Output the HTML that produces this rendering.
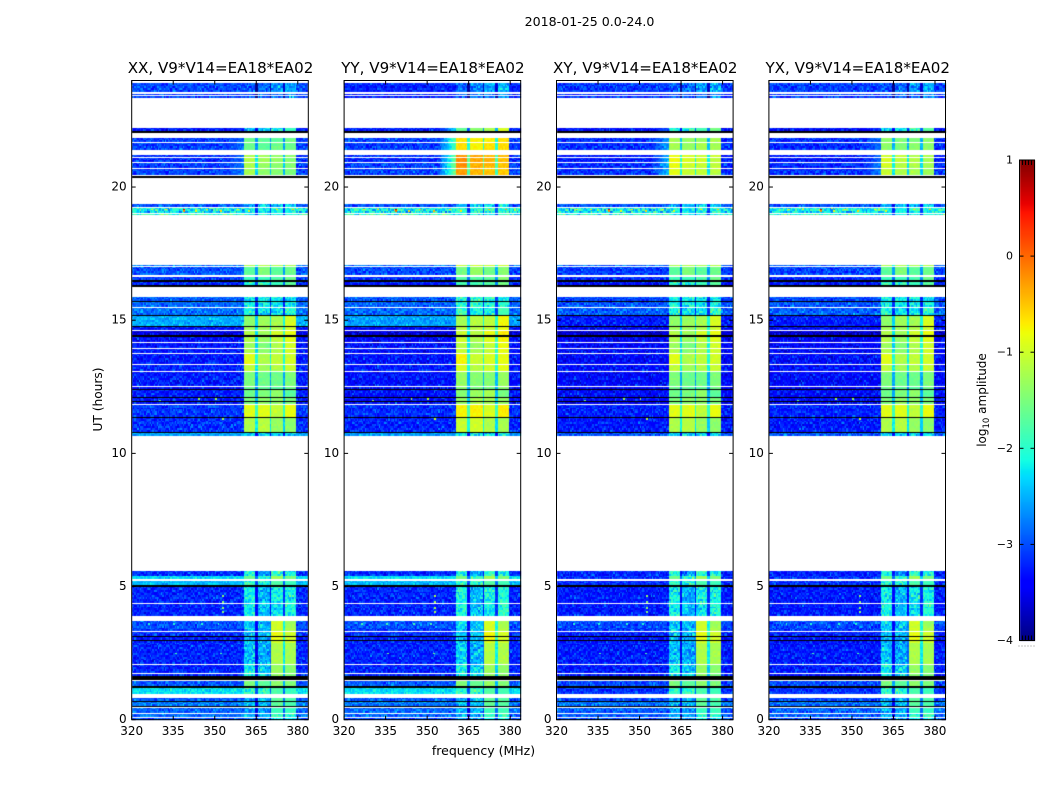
<!DOCTYPE html>
<html>
<head>
<meta charset="utf-8">
<title>2018-01-25 0.0-24.0</title>
<style>
html,body{margin:0;padding:0;background:#fff;}
#figure{position:relative;width:1050px;height:800px;overflow:hidden;background:#fff;}
#heat,#cbar{position:absolute;left:0;top:0;}
#overlay{position:absolute;left:0;top:0;}
text{font-family:"DejaVu Sans","Liberation Sans",sans-serif;fill:#000;}
</style>
</head>
<body>
<div id="figure">
<canvas id="heat" width="1050" height="800"></canvas>
<canvas id="cbar" width="1050" height="800"></canvas>
<svg id="overlay" width="1050" height="800"></svg>
</div>
<script>
// Panels and axis labels
var panelTitles = ["XX, V9*V14=EA18*EA02", "YY, V9*V14=EA18*EA02", "XY, V9*V14=EA18*EA02", "YX, V9*V14=EA18*EA02"];
var freqTicks = [320, 335, 350, 365, 380];
var hourTicks = [0, 5, 10, 15, 20];
var colorbarTicks = [1, 0, -1, -2, -3, -4];

// Observing rows: time range (hours) and log10 amplitude for the low band and four high sub-bands
var timeStart = [23.56,23.46,23.35,22.11,21.69,21.39,21.13,20.94,20.72,20.45,19.24,19.04,18.95,17.03,16.70,16.51,16.31,15.72,15.51,15.20,14.78,14.63,14.44,14.18,13.97,13.78,13.35,13.10,12.53,12.42,12.11,11.98,11.84,11.36,10.80,10.65,5.40,5.29,5.05,4.38,3.89,3.46,3.32,3.14,3.01,2.89,2.08,1.75,1.65,1.28,0.95,0.72,0.52,0.26,0.11,0.00];
var timeEnd   = [23.89,23.51,23.41,22.22,21.84,21.65,21.21,21.10,20.90,20.68,19.37,19.21,18.99,17.07,17.01,16.61,16.45,15.88,15.69,15.47,15.15,14.73,14.60,14.38,14.14,13.93,13.74,13.32,13.07,12.49,12.39,12.09,11.95,11.80,11.34,10.77,5.58,5.40,5.20,4.99,4.34,3.69,3.43,3.29,3.11,2.99,2.89,2.05,1.71,1.45,1.19,0.81,0.68,0.44,0.23,0.07];
var baseLevel = [-3.05,-3.1,-3.1,-3.3,-3.1,-3.1,-3.2,-3.2,-3.1,-3.1,-3.0,-2.25,-2.0,-2.8,-3.0,-3.1,-3.2,-2.95,-2.9,-2.85,-2.55,-3.3,-3.6,-3.4,-3.3,-3.3,-3.3,-3.25,-3.3,-3.3,-3.3,-3.3,-3.3,-3.15,-3.2,-2.6,-3.2,-2.3,-2.5,-3.25,-3.25,-3.0,-3.1,-3.2,-3.3,-3.3,-3.25,-3.25,-3.2,-3.0,-2.3,-3.0,-2.8,-2.9,-2.9,-3.0];
var block1 = [-3.0,-3.0,-3.0,-2.6,-1.6,-1.6,-1.2,-1.15,-1.2,-1.25,-2.6,-2.2,-2.2,-1.2,-1.7,-1.9,-2.0,-2.2,-2.2,-2.1,-1.4,-1.3,-1.2,-1.2,-1.3,-1.2,-0.9,-1.1,-1.5,-1.6,-1.6,-1.5,-1.5,-0.9,-1.2,-2.4,-2.1,-1.6,-2.0,-2.2,-2.2,-2.4,-2.4,-2.5,-2.5,-2.5,-2.45,-2.2,-2.2,-1.5,-2.0,-2.6,-2.5,-2.6,-2.6,-2.7];
var block2 = [-2.9,-3.0,-3.0,-2.4,-1.7,-1.7,-1.3,-1.3,-1.35,-1.4,-2.5,-2.2,-2.2,-1.2,-1.5,-1.9,-2.0,-2.2,-2.2,-2.3,-1.3,-1.3,-1.3,-1.35,-1.5,-1.4,-1.2,-1.3,-1.6,-1.7,-1.5,-1.4,-1.4,-0.9,-1.15,-2.4,-2.7,-2.0,-2.1,-2.55,-2.5,-2.5,-2.5,-2.5,-2.6,-2.6,-2.6,-2.4,-2.3,-1.7,-2.0,-2.5,-2.5,-2.6,-2.6,-2.7];
var block3 = [-2.7,-2.9,-2.9,-2.2,-1.7,-1.6,-1.4,-1.35,-1.4,-1.45,-2.4,-2.1,-2.2,-1.2,-1.7,-1.8,-1.9,-2.2,-2.3,-2.3,-1.25,-1.2,-1.0,-1.1,-1.2,-1.2,-1.1,-1.2,-1.6,-1.7,-1.4,-1.4,-1.4,-1.1,-1.35,-2.4,-2.0,-1.3,-1.8,-2.2,-2.3,-1.0,-1.0,-0.85,-0.85,-1.0,-1.2,-1.35,-1.4,-1.4,-1.8,-1.7,-1.7,-1.9,-2.0,-2.2];
var block4 = [-2.6,-2.8,-2.8,-1.9,-1.6,-1.6,-1.4,-1.45,-1.45,-1.5,-2.4,-2.1,-2.2,-1.2,-1.6,-1.6,-1.7,-2.3,-2.2,-2.0,-0.95,-1.0,-0.85,-0.9,-1.0,-1.0,-1.0,-1.05,-1.5,-1.6,-1.7,-1.5,-1.5,-0.85,-1.4,-2.4,-2.2,-1.5,-1.9,-2.15,-2.1,-1.3,-1.2,-1.0,-1.0,-1.05,-1.25,-1.45,-1.5,-1.5,-1.9,-1.8,-1.8,-1.9,-2.0,-2.2];

// Rows whose low band is bright only in the parallel hands; cross-hand floor read separately
var leakRowStart = [14.78, 5.29, 5.05, 0.95, 10.65];
var leakRowCrossBase = [-3.3, -3.2, -3.2, -3.15, -3.0];

// Very low-amplitude rows that render black
var blackStart = [22.04,20.35,16.45,16.25,15.69,15.15,14.73,14.38,12.39,12.09,11.95,11.34,10.77,4.99,3.11,2.99,1.50,1.19,0.68,0.48];
var blackEnd   = [22.11,20.42,16.51,16.31,15.72,15.20,14.78,14.44,12.42,12.11,11.98,11.36,10.80,5.05,3.14,3.01,1.65,1.28,0.72,0.52];

// Frequency ranges of the four high sub-bands (MHz)
var blockStart = [360.4, 365.4, 370.6, 375.4];
var blockEnd   = [364.6, 369.9, 374.7, 379.7];

// Per-polarisation level shifts by time section
var sectionEnd  = [6, 17.1, 19.5, 22.3, 24];
var blockShiftByPanel = [[0,0,0,0,0],[0.05,0.15,0.1,0.95,0.1],[0,0,0,0.35,0],[0,0,0,0.2,0]];
var baseShiftByPanel  = [[0,0,0,0,0],[0,-0.05,0,0,-0.2],[-0.05,-0.12,0,-0.1,-0.1],[-0.05,-0.1,0,-0.1,-0.05]];
var shoulderByPanel   = [0.15, 0.55, 0.3, 0.2];

// Isolated bright cells (RFI spikes)
var spotFreq  = [338.5,338.5,332,347,352,358,327,343,362,372,378,352.5,352.5,352.5,352.5,326,335,345,351,330,335.5,352,344,350,352.5];
var spotTime  = [19.12,19.05,19.12,19.12,19.05,19.12,19.12,19.05,19.05,19.12,19.12,4.60,4.38,4.15,4.02,3.55,3.55,3.55,3.55,11.95,2.45,2.45,12.0,12.0,11.25];
var spotLevel = [0.6,-0.2,-0.7,-0.7,-0.6,-0.8,-0.9,-0.8,-0.9,-0.7,-0.5,-1.4,-1.4,-1.4,-1.4,-2.0,-2.0,-2.0,-2.0,-1.6,-1.8,-1.8,-1.3,-1.3,-1.2];

// Hand-read amplitude scatter of the noise floor
var speckleA = [0.1,-0.2,0.3,-0.1,0.0,0.5,-0.3,0.15,-0.25,0.05,0.35,-0.15,-0.05,0.2,-0.35,0.6,-0.1,0.1,-0.2,0.25,0.0,-0.3,0.4];
var speckleB = [-0.1,0.2,0.0,-0.25,0.15,0.3,-0.05,-0.3,0.1,0.25,-0.2,0.05,0.35,-0.15,0.0,0.2,-0.35,0.1,-0.1,0.45,-0.2,0.05,-0.05,0.15,-0.25,0.3,0.0,-0.15,0.1];

// Axis functions
var panelWidth = 176.6, panelStep = 212.4, firstLeft = 131.7;
var FREQ_MIN = 320, FREQ_MAX = 383.8, HOURS = 24, TOP = 80.5, BOTTOM = 719.7;
function panelLeft(p){ return firstLeft + p * panelStep; }
function xScale(p, f){ return panelLeft(p) + (f - FREQ_MIN) / (FREQ_MAX - FREQ_MIN) * panelWidth; }
function yScale(h){ return BOTTOM - h / HOURS * (BOTTOM - TOP); }
var CB_TOP = 160, CB_BOTTOM = 640.5, CB_LEFT = 1019.5, CB_RIGHT = 1034.5;
function cbarY(v){ return CB_TOP + (1 - v) / 5 * (CB_BOTTOM - CB_TOP); }

function seg(v, pts){
  for (var i = 1; i < pts.length; i++) {
    if (v <= pts[i][0]) {
      var a = pts[i-1], b = pts[i];
      return a[1] + (b[1]-a[1]) * (v-a[0]) / (b[0]-a[0]);
    }
  }
  return pts[pts.length-1][1];
}
var jetR = [[0,0],[0.35,0],[0.66,1],[0.89,1],[1,0.5]];
var jetG = [[0,0],[0.125,0],[0.375,1],[0.64,1],[0.91,0],[1,0]];
var jetB = [[0,0.5],[0.11,1],[0.34,1],[0.65,0],[1,0]];
function jet(level){
  var v = Math.max(0, Math.min(1, (level + 4) / 5));
  return "rgb(" + Math.round(255*seg(v,jetR)) + "," + Math.round(255*seg(v,jetG)) + "," + Math.round(255*seg(v,jetB)) + ")";
}
function sectionOf(h){
  for (var i = 0; i < sectionEnd.length; i++) { if (h <= sectionEnd[i]) return i; }
  return sectionEnd.length - 1;
}

var CH = 0.5, DT = 0.072;
var ctx = document.getElementById("heat").getContext("2d");
function cell(p, f0, f1, t0, t1, color){
  var xa = Math.round(xScale(p, f0)), xb = Math.round(xScale(p, Math.min(f1, FREQ_MAX)));
  var ya = Math.round(yScale(t1)), yb = Math.round(yScale(t0));
  if (yb <= ya) yb = ya + 1;
  ctx.fillStyle = color;
  ctx.fillRect(xa, ya, xb - xa, yb - ya);
}
function levelAt(p, r, f, col, slice){
  var sec = sectionOf((timeStart[r] + timeEnd[r]) / 2);
  var base = baseLevel[r] + baseShiftByPanel[p][sec];
  if (p >= 2) {
    var leak = leakRowStart.indexOf(timeStart[r]);
    if (leak >= 0) base = leakRowCrossBase[leak];
  }
  var blocks = [block1[r], block2[r], block3[r], block4[r]];
  var n = speckleA[(col*col + slice*7 + p*5) % speckleA.length] + speckleB[(col*3 + slice*slice + p*11) % speckleB.length];
  var shift = blockShiftByPanel[p][sec];
  var mid = f + CH / 2;
  for (var b = 0; b < 4; b++) {
    if (mid >= blockStart[b] && mid < blockEnd[b]) {
      var lv = blocks[b] + shift;
      return lv + n * (lv < -1.9 ? 0.7 : 0.16);
    }
    if (b < 3 && mid >= blockEnd[b] && mid < blockStart[b+1]) {
      return (blocks[b] + blocks[b+1]) / 2 + shift * 0.6 - 1.0 + n * 0.2;
    }
  }
  var noiseWeight = base > -2.7 ? 0.45 : 0.6;
  if (sec === 3 && mid > 354 && mid < blockStart[0]) {
    return base + (blocks[0] + shift - base) * shoulderByPanel[p] * (mid - 354) / 6.4 + n * 0.4;
  }
  if (base > -2.3) noiseWeight = 1.1;
  return base + n * noiseWeight;
}
for (var p = 0; p < 4; p++) {
  for (var r = 0; r < timeStart.length; r++) {
    var slice = Math.floor(timeStart[r] / DT);
    for (var t = timeStart[r]; t < timeEnd[r] - 0.005; t += DT) {
      var tTop = Math.min(t + DT, timeEnd[r]);
      for (var c = 0; FREQ_MIN + c * CH < FREQ_MAX; c++) {
        var f = FREQ_MIN + c * CH;
        cell(p, f, f + CH, t, tTop, jet(levelAt(p, r, f, c, slice)));
      }
      slice++;
    }
  }
  for (var k = 0; k < blackStart.length; k++) {
    cell(p, FREQ_MIN, FREQ_MAX, blackStart[k], blackEnd[k], "#000");
  }
  for (var s = 0; s < spotFreq.length; s++) {
    cell(p, spotFreq[s], spotFreq[s] + CH * 1.4, spotTime[s], spotTime[s] + DT, jet(spotLevel[s] + (p === 1 ? 0.2 : 0)));
  }
}

// Colorbar gradient
var cb = document.getElementById("cbar").getContext("2d");
for (var yy = Math.round(CB_TOP); yy < Math.round(CB_BOTTOM); yy++) {
  var lvl = 1 - (yy + 0.5 - CB_TOP) / (CB_BOTTOM - CB_TOP) * 5;
  cb.fillStyle = jet(lvl);
  cb.fillRect(Math.round(CB_LEFT), yy, Math.round(CB_RIGHT - CB_LEFT), 1);
}

// Vector overlay
var svg = document.getElementById("overlay");
var NS = "http://www.w3.org/2000/svg";
function line(x1, y1, x2, y2, w){
  var el = document.createElementNS(NS, "line");
  el.setAttribute("x1", x1); el.setAttribute("y1", y1);
  el.setAttribute("x2", x2); el.setAttribute("y2", y2);
  el.setAttribute("stroke", "#000");
  el.setAttribute("stroke-width", w || 1);
  svg.appendChild(el);
  return el;
}
function label(x, y, str, size, anchor){
  var el = document.createElementNS(NS, "text");
  el.setAttribute("x", x); el.setAttribute("y", y);
  el.setAttribute("font-size", size);
  el.setAttribute("text-anchor", anchor || "middle");
  el.textContent = str;
  svg.appendChild(el);
  return el;
}
function frameRect(x, y, w, h){
  var el = document.createElementNS(NS, "rect");
  el.setAttribute("x", x); el.setAttribute("y", y);
  el.setAttribute("width", w); el.setAttribute("height", h);
  el.setAttribute("fill", "none");
  el.setAttribute("stroke", "#000");
  el.setAttribute("stroke-width", 1);
  svg.appendChild(el);
  return el;
}
var TICK = 4;
for (var pi = 0; pi < 4; pi++) {
  var L = panelLeft(pi), R = L + panelWidth;
  var frame = frameRect(L, TOP, panelWidth, BOTTOM - TOP);
  
  

  var ttl = label(L + panelWidth / 2 + 0.5, 73, panelTitles[pi], 15.1);
  
  

  freqTicks.forEach(function(v){
    var x = xScale(pi, v);
    var t1 = line(x, BOTTOM, x, BOTTOM - TICK);
    
    
    var t2 = line(x, TOP, x, TOP + TICK);
    
    
    var tl = label(x, 735, String(v), 12);
    
    
  });
  hourTicks.forEach(function(v){
    var y = yScale(v);
    var t3 = line(L, y, L + TICK, y);
    
    
    var t4 = line(R, y, R - TICK, y);
    
    
    var yl = label(L - 5, y + 3.5, String(v), 12, "end");
    
    
  });
}
var figTitle = label(589.5, 26, "2018-01-25 0.0-24.0", 12.6);



var xTitle = label(483.5, 755, "frequency (MHz)", 12.5);



var yTitle = label(0, 0, "UT (hours)", 12.2);
yTitle.setAttribute("transform", "translate(102,399.5) rotate(-90)");



// Colorbar frame, ticks, labels
var cbFrame = frameRect(CB_LEFT, CB_TOP, CB_RIGHT - CB_LEFT, CB_BOTTOM - CB_TOP);


colorbarTicks.forEach(function(v){
  var y = cbarY(v);
  var a = line(CB_LEFT, y, CB_LEFT + TICK, y);
  
  
  var b = line(CB_RIGHT, y, CB_RIGHT - TICK, y);
  
  
  var lab = label(1013, y + 3.5, (v < 0 ? "\u2212" : "") + Math.abs(v), 11, "end");
  
  
});
[0.2, 0.4, 0.6, 0.8].forEach(function(fr){
  var x = CB_LEFT + fr * (CB_RIGHT - CB_LEFT);
  var a = line(x, CB_TOP, x, CB_TOP + 5);
  
  
  var b = line(x, CB_BOTTOM, x, CB_BOTTOM - 5);
  
  
});
[0, 0.2, 0.4, 0.6, 0.8, 1].forEach(function(fr){
  var d = document.createElementNS(NS, "rect");
  d.setAttribute("x", CB_LEFT - 1 + fr * (CB_RIGHT - CB_LEFT));
  d.setAttribute("y", 645.5);
  d.setAttribute("width", 1);
  d.setAttribute("height", 1);
  d.setAttribute("fill", "#888");
  
  
  svg.appendChild(d);
});
var cbTitle = label(0, 0, "", 12);
cbTitle.setAttribute("transform", "translate(986,400) rotate(-90)");


var tsA = document.createElementNS(NS, "tspan");
tsA.textContent = "log";
cbTitle.appendChild(tsA);
var tsB = document.createElementNS(NS, "tspan");
tsB.setAttribute("font-size", "8.5");
tsB.setAttribute("dy", "3");
tsB.textContent = "10";
cbTitle.appendChild(tsB);
var tsC = document.createElementNS(NS, "tspan");
tsC.setAttribute("dy", "-3");
tsC.textContent = " amplitude";
cbTitle.appendChild(tsC);
</script>
</body>
</html>
